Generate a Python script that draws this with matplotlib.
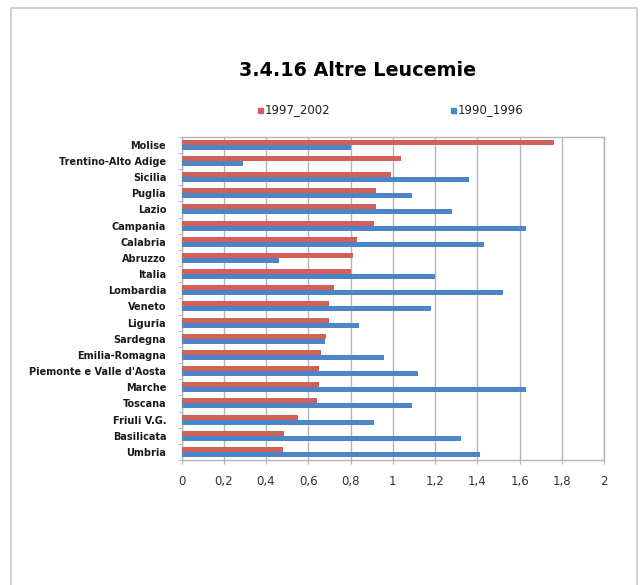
import matplotlib.pyplot as plt
import matplotlib.patches as patches
import numpy as np

regions = ["Molise", "Trentino-Alto Adige", "Sicilia", "Puglia", "Lazio",
           "Campania", "Calabria", "Abruzzo", "Italia", "Lombardia", "Veneto",
           "Liguria", "Sardegna", "Emilia-Romagna", "Piemonte e Valle d'Aosta",
           "Marche", "Toscana", "Friuli V.G.", "Basilicata", "Umbria"]
v_1997_2002 = [1.76, 1.04, 0.99, 0.92, 0.92, 0.91, 0.83, 0.81, 0.80, 0.72,
               0.70, 0.70, 0.685, 0.66, 0.65, 0.65, 0.64, 0.55, 0.485, 0.48]
v_1990_1996 = [0.80, 0.29, 1.36, 1.09, 1.28, 1.63, 1.43, 0.46, 1.20, 1.52,
               1.18, 0.84, 0.68, 0.96, 1.12, 1.63, 1.09, 0.91, 1.32, 1.41]
xticks = [0, 0.2, 0.4, 0.6, 0.8, 1, 1.2, 1.4, 1.6, 1.8, 2]

red = "#d0605a"
blue = "#4a86c8"
grid_c = "#b4b4b4"

fig = plt.figure(figsize=(6.4, 5.85), dpi=100)
ax = fig.add_axes([181.5 / 640, 1 - 460 / 585, (604.3 - 181.5) / 640, (460 - 136.7) / 585])

# outer chart frame (bottom edge runs off the page)
fig.patches.append(patches.Rectangle((11 / 640, -0.1), (637 - 11) / 640, 1.1 - 8 / 585,
                                     transform=fig.transFigure, fill=False,
                                     edgecolor="#c8c8c8", linewidth=1.2))

y = np.arange(len(regions))[::-1]
h = 0.31
ax.barh(y + h / 2, v_1997_2002, height=h, color=red, label="1997_2002", zorder=3)
ax.barh(y - h / 2, v_1990_1996, height=h, color=blue, label="1990_1996", zorder=3)

ax.set_xlim(0, 2)
ax.set_ylim(-0.5, len(regions) - 0.5)
ax.set_xticks(xticks)
ax.set_xticklabels([("%g" % t).replace(".", ",") for t in xticks],
                   fontsize=8.5, color="#333333")
ax.tick_params(axis="x", length=3, color=grid_c, pad=8)

ax.set_yticks(y)
ax.set_yticklabels(regions, fontsize=7, fontweight="bold", color="#1a1a1a")
ax.set_yticks(np.arange(len(regions) + 1) - 0.5, minor=True)
ax.tick_params(axis="y", which="major", length=0, pad=11)
ax.tick_params(axis="y", which="minor", length=3, color=grid_c)

ax.grid(axis="x", color=grid_c, linewidth=1, zorder=0)
for s in ax.spines.values():
    s.set_color(grid_c)
    s.set_linewidth(1)

fig.text(358 / 640, 1 - 70 / 585, "3.4.16 Altre Leucemie", ha="center", va="center",
         fontsize=13.8, fontweight="bold", color="#000000")

# legend drawn as two entries spread across the top
for xs, lab, c in [(258, "1997_2002", red), (451, "1990_1996", blue)]:
    fig.patches.append(patches.Rectangle((xs / 640, 1 - 113 / 585), 5 / 640, 5 / 585,
                                         transform=fig.transFigure, color=c))
    fig.text((xs + 7) / 640, 1 - 110 / 585, lab, ha="left", va="center",
             fontsize=8.5, color="#222222")

fig.savefig("out.png", dpi=100)
